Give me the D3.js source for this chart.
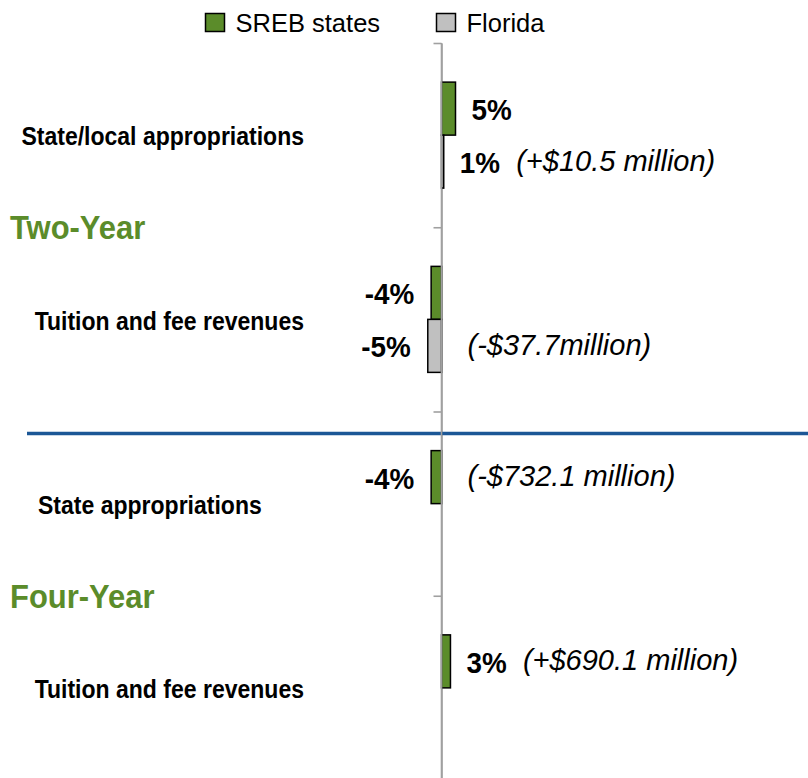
<!DOCTYPE html>
<html>
<head>
<meta charset="utf-8">
<script src="https://cdn.jsdelivr.net/npm/d3@7"></script>
<style>
  html, body { margin: 0; padding: 0; background: #fff; }
  svg { display: block; font-family: "Liberation Sans", Arial, Helvetica, sans-serif; }
</style>
</head>
<body>
<svg id="chart" width="808" height="778"></svg>
<script>
// ---------------- data ----------------
const categories = ["State/local appropriations", "Tuition and fee revenues", "State appropriations", "Tuition and fee revenues"];
const groups = ["Two-Year", "Four-Year"];
const series = ["SREB states", "Florida"];
const srebValues = [5.0, -3.7, -3.7, 3.2];
const floridaValues = [0.8, -4.9, null, null];
const srebLabels = ["5%", "-4%", "-4%", "3%"];
const floridaLabels = ["1%", "-5%", null, null];
const dollarLabels = ["(+$10.5 million)", "(-$37.7million)", "(-$732.1 million)", "(+$690.1 million)"];
const dollarSeries = ["Florida", "Florida", "SREB states", "SREB states"];

// ---------------- style ----------------
const colors = { "SREB states": "#5b8c2a", "Florida": "#c0c0c0" };
const groupColor = "#5b8c2a";
const axisColor = "#a0a0a0";
const sepColor = "#1c5796";

const W = 808, H = 778;
const svg = d3.select("#chart");

const axisX = 441.5;
const pxPerPct = 2.8;
const x = d3.scaleLinear().domain([-10, 10]).range([axisX - 10 * pxPerPct, axisX + 10 * pxPerPct]);

const y = d3.scaleBand().domain(d3.range(categories.length)).range([43, 780]).paddingInner(0).paddingOuter(0);
const ySub = d3.scaleBand().domain(series).range([0, y.bandwidth()]).paddingInner(0).paddingOuter(0.738);

const rows = categories.map((c, i) => ({
  i, cat: c,
  vals: { "SREB states": srebValues[i], "Florida": floridaValues[i] },
  labs: { "SREB states": srebLabels[i], "Florida": floridaLabels[i] }
}));

// condense a text horizontally (emulates a narrow face)
function condense(sel, k) {
  sel.each(function () {
    const w = this.getComputedTextLength();
    d3.select(this).attr("textLength", w * k).attr("lengthAdjust", "spacingAndGlyphs");
  });
}

// ---------------- category axis (ticks at band boundaries) ----------------
const yEdge = d3.scaleLinear().domain([0, categories.length]).range(y.range());
svg.append("g")
  .attr("transform", `translate(${axisX},0)`)
  .call(d3.axisLeft(yEdge).tickValues(d3.range(categories.length + 1)).tickSize(8).tickSizeOuter(0).tickFormat(""))
  .call(g => g.select(".domain").attr("stroke", axisColor).attr("stroke-width", 1.6))
  .call(g => g.selectAll(".tick line").attr("stroke", axisColor).attr("stroke-width", 1.6));

// ---------------- separator line ----------------
svg.append("line")
  .attr("x1", 27).attr("x2", W)
  .attr("y1", y(2) + 22).attr("y2", y(2) + 22)
  .attr("stroke", sepColor).attr("stroke-width", 3.5);

// ---------------- bars ----------------
const barData = [];
rows.forEach(r => series.forEach(s => {
  if (r.vals[s] != null) barData.push({ i: r.i, s, v: r.vals[s], lab: r.labs[s] });
}));

svg.append("g").selectAll("rect").data(barData).join("rect")
  .attr("x", d => x(Math.min(0, d.v)))
  .attr("width", d => Math.abs(x(d.v) - x(0)))
  .attr("y", d => y(d.i) + ySub(d.s))
  .attr("height", ySub.bandwidth())
  .attr("fill", d => colors[d.s])
  .attr("stroke", "#000").attr("stroke-width", 1.5);

// axis line drawn over the bars
svg.append("line")
  .attr("x1", axisX).attr("x2", axisX).attr("y1", y.range()[0]).attr("y2", H)
  .attr("stroke", axisColor).attr("stroke-width", 1.6);

// ---------------- percent labels ----------------
const pctLabels = svg.append("g").selectAll("text").data(barData.filter(d => d.lab)).join("text")
  .attr("x", d => d.v >= 0 ? x(d.v) + 16 : x(d.v) - 17)
  .attr("y", d => y(d.i) + ySub(d.s) + ySub.bandwidth() / 2 + 1)
  .attr("dy", "0.36em")
  .attr("text-anchor", d => d.v >= 0 ? "start" : "end")
  .attr("font-size", 29).attr("font-weight", "bold").attr("fill", "#000")
  .text(d => d.lab)
  .call(condense, 0.96);

const pctEnd = {};
pctLabels.each(function (d) {
  const bb = this.getBBox();
  pctEnd[d.i + "|" + d.s] = bb.x + bb.width;
});

// ---------------- dollar labels ----------------
svg.append("g").selectAll("text").data(dollarLabels.map((t, i) => ({ t, i, s: dollarSeries[i] }))).join("text")
  .attr("x", d => {
    const v = rows[d.i].vals[d.s];
    return v >= 0 ? pctEnd[d.i + "|" + d.s] + 16 : x(0) + 26;
  })
  .attr("y", d => y(d.i) + ySub(d.s) + ySub.bandwidth() / 2 - 1.5)
  .attr("dy", "0.36em")
  .attr("font-size", 29).attr("font-style", "italic").attr("fill", "#000")
  .text(d => d.t);

// ---------------- category labels ----------------
svg.append("g").selectAll("text").data(rows).join("text")
  .attr("x", d => d.i === 2 ? 38 : 304)
  .attr("text-anchor", d => d.i === 2 ? "start" : "end")
  .attr("y", d => y(d.i) + y.bandwidth() / 2 + 1)
  .attr("dy", "0.36em")
  .attr("font-size", 26).attr("font-weight", "bold").attr("fill", "#000")
  .text(d => d.cat)
  .call(condense, 0.885);

// ---------------- group labels ----------------
svg.append("g").selectAll("text").data(groups).join("text")
  .attr("x", 10)
  .attr("y", (g, gi) => (y(gi * 2) + y(gi * 2 + 1) + y.bandwidth()) / 2)
  .attr("dy", "0.36em")
  .attr("font-size", 34).attr("font-weight", "bold").attr("fill", groupColor)
  .text(g => g)
  .call(condense, 0.91);

// ---------------- legend ----------------
const legendX = [205.5, 436.5];
const leg = svg.append("g").selectAll("g").data(series).join("g")
  .attr("transform", (s, k) => `translate(${legendX[k]},13.5)`);
leg.append("rect").attr("width", 19).attr("height", 18)
  .attr("fill", s => colors[s]).attr("stroke", "#000").attr("stroke-width", 1.5);
leg.append("text").attr("x", 30).attr("y", 9).attr("dy", "0.36em")
  .attr("font-size", 25.5).attr("fill", "#000").text(s => s);
</script>
</body>
</html>
